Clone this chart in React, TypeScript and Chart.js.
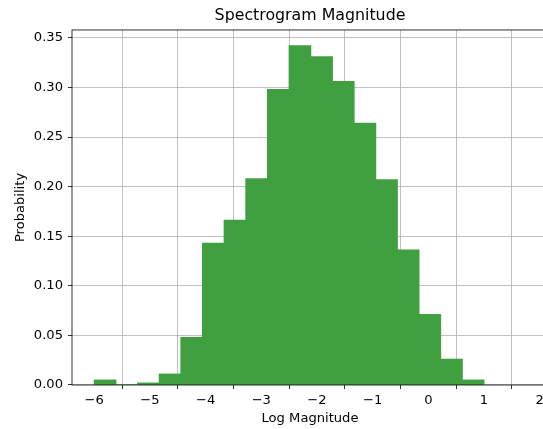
import React, { useEffect, useRef } from "react";
import { Chart, registerables } from "chart.js";

Chart.register(...registerables);

// Histogram bin edges (Log Magnitude)
const binEdges = [
  -6.0, -5.611, -5.222, -4.833, -4.444, -4.056, -3.667, -3.278, -2.889, -2.5,
  -2.111, -1.722, -1.333, -0.944, -0.556, -0.167, 0.222, 0.611, 1.0,
];
// Probability density per bin
const probabilities = [
  0.005, 0.0, 0.002, 0.011, 0.048, 0.143, 0.166, 0.208, 0.298, 0.342,
  0.331, 0.306, 0.264, 0.207, 0.136, 0.071, 0.026, 0.005,
];
const xTicks = [-6, -5, -4, -3, -2, -1, 0, 1, 2];
const yTicks = [0, 0.05, 0.1, 0.15, 0.2, 0.25, 0.3, 0.35];

const FONT = "'DejaVu Sans', sans-serif";

export default function App() {
  const canvasRef = useRef<HTMLCanvasElement | null>(null);

  useEffect(() => {
    const canvas = canvasRef.current;
    if (!canvas) return;

    const points = probabilities.map((p, i) => ({
      x: (binEdges[i] + binEdges[i + 1]) / 2,
      y: p,
    }));

    const framePlugin = {
      id: "frame",
      afterDraw(chart: any) {
        const { ctx, chartArea } = chart;
        ctx.save();
        ctx.strokeStyle = "#000";
        ctx.lineWidth = 0.8;
        ctx.strokeRect(
          chartArea.left,
          chartArea.top,
          chartArea.right - chartArea.left,
          chartArea.bottom - chartArea.top
        );
        ctx.restore();
      },
    };

    const chart = new Chart(canvas, {
      type: "bar",
      data: {
        datasets: [
          {
            data: points as any,
            backgroundColor: "#40a040",
            borderWidth: 0,
            inflateAmount: 0.5,
            barPercentage: 1,
            categoryPercentage: 1,
            grouped: false,
          } as any,
        ],
      },
      options: {
        animation: false,
        responsive: false,
        devicePixelRatio: 1,
        layout: { padding: { top: 0, left: 0, right: 1, bottom: 0 } },
        plugins: {
          legend: { display: false },
          tooltip: { enabled: false },
          title: {
            display: true,
            text: "Spectrogram Magnitude",
            fullSize: false,
            color: "#000",
            font: { family: FONT, size: 15.8, weight: "normal", lineHeight: 1.2 },
            padding: { top: 6, bottom: 5 },
          },
        },
        scales: {
          x: {
            type: "linear",
            min: -6.4,
            max: 2.15,
            z: 1,
            offset: false,
            border: { display: false },
            grid: {
              color: "#b0b0b0",
              lineWidth: 0.8,
              tickColor: "#000",
              tickLength: 4,
              tickWidth: 0.8,
              drawTicks: true,
            },
            ticks: {
              color: "#000",
              padding: 4,
              maxRotation: 0,
              autoSkip: false,
              font: { family: FONT, size: 13.1 },
              callback: (v: any) =>
                Number(v) < 0 ? "\u2212" + Math.abs(Number(v)) : String(v),
            },
            afterBuildTicks: (scale: any) => {
              scale.ticks = xTicks.map((v) => ({ value: v }));
            },
            afterFit: (scale: any) => {
              scale.height = 44;
              scale.paddingLeft = 0;
              scale.paddingRight = 0;
            },
            title: {
              display: true,
              text: "Log Magnitude",
              color: "#000",
              font: { family: FONT, size: 13.1, lineHeight: 1.2 },
              padding: { top: 0, bottom: 2.3 },
            },
          },
          y: {
            type: "linear",
            min: 0,
            max: 0.358,
            z: 1,
            border: { display: false },
            grid: {
              color: "#b0b0b0",
              lineWidth: 0.8,
              tickColor: "#000",
              tickLength: 4,
              tickWidth: 0.8,
              drawTicks: true,
            },
            ticks: {
              color: "#000",
              padding: 5,
              font: { family: FONT, size: 13.1 },
              callback: (v: any) => Number(v).toFixed(2),
            },
            afterBuildTicks: (scale: any) => {
              scale.ticks = yTicks.map((v) => ({ value: v }));
            },
            afterFit: (scale: any) => {
              scale.width = 72;
              scale.paddingTop = 0;
              scale.paddingBottom = 0;
            },
            title: {
              display: true,
              text: "Probability",
              color: "#000",
              font: { family: FONT, size: 13.1, lineHeight: 1.2 },
              padding: { top: 12.6, bottom: 0 },
            },
          },
        },
      },
      plugins: [framePlugin],
    } as any);

    return () => chart.destroy();
  }, []);

  return (
    <div
      style={{
        position: "absolute",
        left: 0,
        top: 0,
        width: 543,
        height: 429,
        overflow: "hidden",
        background: "#fff",
      }}
    >
      <canvas ref={canvasRef} width={549} height={429} style={{ display: "block" }} />
    </div>
  );
}
